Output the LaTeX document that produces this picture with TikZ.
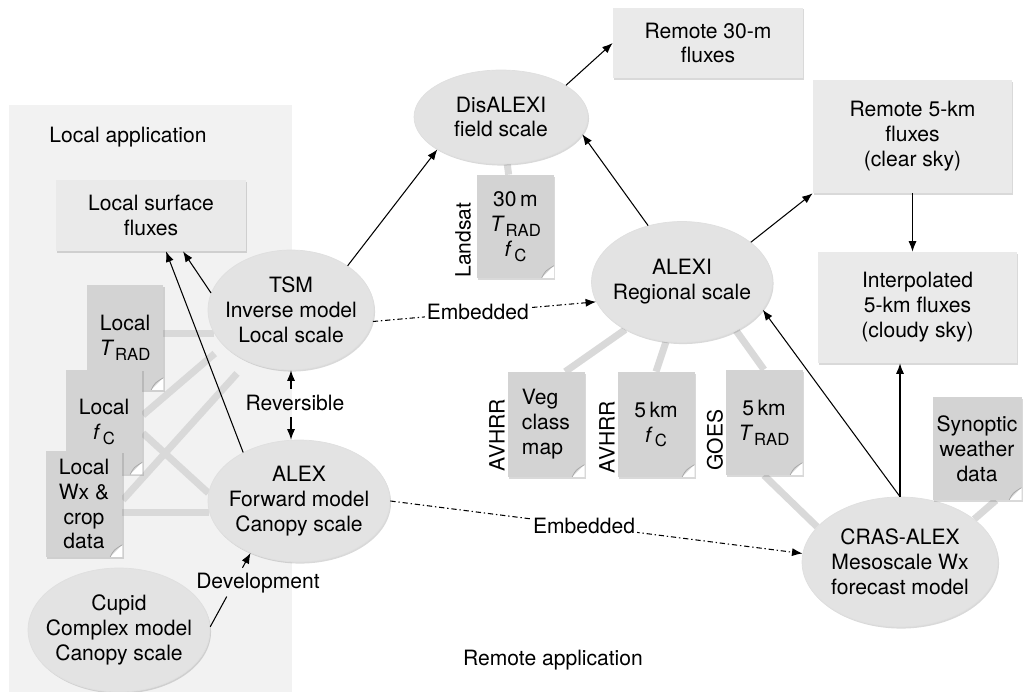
\documentclass[tikz,border=0pt]{standalone}
\usepackage{fontspec}
\setmainfont{TeX Gyre Heros}
\usetikzlibrary{shapes.geometric,arrows.meta,shadows,backgrounds,calc}

\definecolor{colpannello}{HTML}{F2F2F2}
\definecolor{colscatola}{HTML}{EAEAEA}
\definecolor{colellisse}{HTML}{E3E3E3}
\definecolor{colfoglio}{HTML}{D3D3D3}
\definecolor{collegame}{HTML}{D9D9D9}

\newcommand{\Trad}{\textit{T}\kern0.4pt\raisebox{-0.45ex}{\fontsize{9.5}{10}\selectfont RAD}}
\newcommand{\fC}{\textit{f}\kern1.2pt\raisebox{-0.45ex}{\fontsize{9.5}{10}\selectfont C}}

\tikzset{
  ombra/.style={drop shadow={shadow xshift=0.6pt, shadow yshift=-0.9pt, opacity=0.3}},
  flusso/.style={rectangle, fill=colscatola, ombra, minimum width=3.8cm, minimum height=1.42cm},
  modello/.style={ellipse, fill=colellisse, draw=gray!25, line width=0.4pt, ombra},
  foglio/.style={rectangle, fill=colfoglio, ombra, minimum width=1.54cm, minimum height=2.1cm, inner sep=1pt,
    path picture={
      \fill[white] ([xshift=-7pt]path picture bounding box.south east) -- ([yshift=7pt]path picture bounding box.south east) -- (path picture bounding box.south east) -- cycle;
      \draw[gray!70, line width=0.4pt] ([xshift=-7pt]path picture bounding box.south east) .. controls ([xshift=-5pt,yshift=4pt]path picture bounding box.south east) .. ([yshift=7pt]path picture bounding box.south east);
    }},
  sensore/.style={rotate=90},
  legame/.style={collegame, line width=0.14cm},
  freccia/.style={-{Latex[length=6pt,width=4.6pt]}, line width=0.6pt},
  incluso/.style={freccia, dash pattern=on 3pt off 1.6pt on 0.8pt off 1.6pt}
}

\begin{document}
\begin{tikzpicture}[x=0.02cm, y=-0.02cm, every node/.style={align=center, font=\fontsize{12}{14.2}\selectfont}]
  \useasboundingbox (0,0) rectangle (1023,692);

  % Applicazione locale
  \node (locapp) at (128,137) {Local application};
  \node[flusso] (lsf) at (151,215.5) {Local surface\\fluxes};
  \node[modello, minimum width=3.32cm, minimum height=2.4cm,
        label={center:TSM\\Inverse model\\Local scale}] (tsm) at (291,310) {};
  \node[modello, minimum width=3.64cm, minimum height=2.44cm,
        label={center:ALEX\\Forward model\\Canopy scale}] (alex) at (299,501) {};
  \node[modello, minimum width=3.64cm, minimum height=2.48cm,
        label={center:Cupid\\Complex model\\Canopy scale}] (cupid) at (119,630) {};

  % Dati locali
  \node[foglio] (ltrad) at (125,337.5) {Local\\\Trad};
  \node[foglio] (lfc) at (104,422) {Local\\\fC};
  \node[foglio, minimum height=2.12cm] (lwx) at (84,504) {Local\\Wx \&\\crop\\data};

  % Applicazione remota
  \node[modello, minimum width=3.48cm, minimum height=1.88cm,
        label={center:DisALEXI\\field scale}] (disalexi) at (501,117) {};
  \node[flusso] (r30) at (708,43) {Remote 30-m\\fluxes};
  \node[foglio, minimum height=2.06cm] (lsat) at (515.5,226.5) {30\,m\\\Trad\\\fC};
  \node[sensore] (lsatlab) at (463,240) {Landsat};
  \node[modello, minimum width=3.62cm, minimum height=2.42cm,
        label={center:ALEXI\\Regional scale}] (alexi) at (682,282) {};
  \node[flusso, minimum width=3.98cm, minimum height=2.26cm] (r5) at (912.5,136.5) {Remote 5-km\\fluxes\\(clear sky)};
  \node[flusso, minimum width=3.98cm, minimum height=2.22cm] (interp) at (917.5,307.5) {Interpolated\\5-km fluxes\\(cloudy sky)};

  % Dati satellitari
  \node[foglio, align=left] (veg) at (546,424.5) {Veg\\class\\map};
  \node[sensore] (avhrra) at (497,435) {AVHRR};
  \node[foglio] (fc5) at (656,424.5) {5\,km\\\fC};
  \node[sensore] (avhrrb) at (607,437) {AVHRR};
  \node[foglio] (trad5) at (764,422.5) {5\,km\\\Trad};
  \node[sensore] (goes) at (715,440) {GOES};

  \node[modello, minimum width=3.92cm, minimum height=2.6cm,
        label={center:CRAS-ALEX\\Mesoscale Wx\\forecast model}] (cras) at (900,562) {};
  \node[foglio, minimum width=1.78cm, minimum height=2.06cm] (syn) at (977,448.5) {Synoptic\\weather\\data};
  \node (remapp) at (553,660) {Remote application};

  % Sfondo e legami grigi
  \begin{pgfonlayer}{background}
    \fill[colpannello] (9,105) rectangle (292,692);
    \draw[legame] (tsm.197) -- (tsm.197 -| ltrad);
    \draw[legame, shorten >=0.24cm] (lfc.10) -- (tsm.208);
    \draw[legame, shorten >=0.32cm] (lwx.6) -- (tsm.230);
    \draw[legame] (lfc.-16) -- (alex.175);
    \draw[legame] (alex.187) -- (alex.187 -| lwx);
    \draw[legame] (disalexi) -- (lsat);
    \draw[legame] (alexi.220) -- (veg.70);
    \draw[legame] (alexi.255) -- (fc5.north);
    \draw[legame] (alexi.318) -- (trad5.north);
    \draw[legame] (trad5.south) -- (cras.157);
    \draw[legame] (syn.290) -- (cras.30);
  \end{pgfonlayer}

  % Frecce
  \draw[freccia] (tsm.168) -- ([xshift=0.64cm]lsf.south);
  \draw[freccia] (alex.139) -- ([xshift=0.3cm]lsf.south);
  \draw[freccia] (tsm.38) -- (disalexi.207);
  \draw[freccia] (disalexi.26) -- (r30.west);
  \draw[freccia] (alexi.121) -- (disalexi.348);
  \draw[freccia] (alexi.30) -- (r5.south west);
  \draw[freccia] (r5.south) -- (r5.south |- interp.north);
  \draw[freccia] (cras.north) -- (cras.north |- interp.south);
  \draw[freccia] (cras.north) -- (alexi.341);

  % Reversibile e sviluppo
  \node (revlab) at (295,403) {Reversible};
  \draw[freccia] (revlab.north -| tsm.south) -- (tsm.south);
  \draw[freccia] (revlab.south -| tsm.south) -- (tsm.south |- alex.north);
  \node (devlab) at (258,583) {Development};
  \draw[line width=0.6pt] (cupid.2) -- ($(cupid.2)!0.41!(alex.227)$);
  \draw[freccia] ($(cupid.2)!0.8!(alex.227)$) -- (alex.227);

  % Modelli incorporati
  \draw[incluso] (tsm.352) -- node[pos=0.47, fill=white, inner sep=1pt] (emba) {Embedded} (alexi.193);
  \draw[incluso] (alex.east) -- node[pos=0.47, fill=white, inner sep=1pt] (embb) {Embedded} (cras.175);
\end{tikzpicture}
\end{document}
